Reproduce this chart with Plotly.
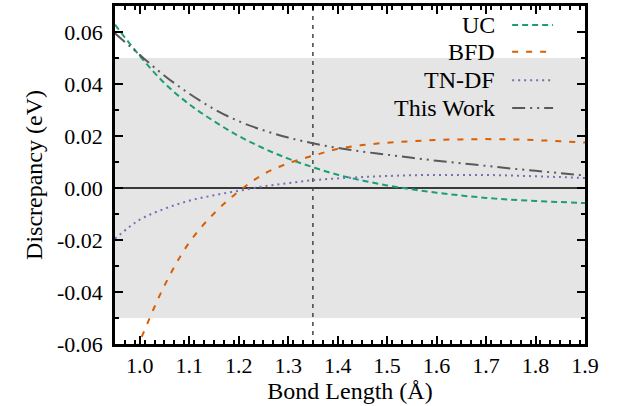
import plotly.graph_objects as go

bond_length = [0.95, 1.00, 1.05, 1.10, 1.15, 1.20, 1.25, 1.30, 1.35, 1.40,
               1.45, 1.50, 1.55, 1.60, 1.65, 1.70, 1.75, 1.80, 1.85, 1.90]
uc = [0.0628, 0.0508, 0.0403, 0.0322, 0.0257, 0.0200, 0.0153, 0.0113, 0.0080, 0.0051,
      0.0029, 0.0010, -0.0005, -0.0018, -0.0029, -0.0038, -0.0045, -0.0050, -0.0054, -0.0058]
bfd_x = [0.97, 1.00, 1.05, 1.10, 1.15, 1.20, 1.25, 1.30, 1.35, 1.40,
         1.45, 1.50, 1.55, 1.60, 1.65, 1.70, 1.75, 1.80, 1.85, 1.90]
bfd = [-0.072, -0.059, -0.0375, -0.021, -0.0098, -0.0013, 0.0053, 0.0095, 0.0124, 0.0150,
       0.0165, 0.0174, 0.018, 0.0185, 0.0187, 0.0188, 0.0187, 0.0184, 0.018, 0.0175]
tndf = [-0.0195, -0.0122, -0.008, -0.0049, -0.0028, -0.0011, 0.0006, 0.0019, 0.003, 0.0037,
        0.0042, 0.0046, 0.0049, 0.005, 0.005, 0.005, 0.0048, 0.0045, 0.0042, 0.0038]
this_work = [0.0595, 0.0512, 0.0432, 0.0363, 0.0304, 0.0257, 0.0222, 0.0194, 0.0172, 0.0154,
             0.0140, 0.0128, 0.0116, 0.0105, 0.0095, 0.0085, 0.0075, 0.0066, 0.0057, 0.0048]

series_names = ["UC", "BFD", "TN-DF", "This Work"]
series_colors = ["#1b9e77", "#d95f02", "#7570b3", "#595959"]
series_dash = ["6px,4px", "6px,8px", "2px,4px", "13px,5px,2px,5px,2px,5px"]

x_tickvals = [1.0, 1.1, 1.2, 1.3, 1.4, 1.5, 1.6, 1.7, 1.8, 1.9]
x_ticktext = ["1.0", "1.1", "1.2", "1.3", "1.4", "1.5", "1.6", "1.7", "1.8", "1.9"]
y_tickvals = [-0.06, -0.04, -0.02, 0.0, 0.02, 0.04, 0.06]
y_ticktext = ["-0.06", "-0.04", "-0.02", "0.00", "0.02", "0.04", "0.06"]

band_low, band_high = -0.05, 0.05
ref_bond = 1.35

FONT = "Liberation Serif, DejaVu Serif, Times New Roman, serif"

fig = go.Figure()
xs = [bond_length, bfd_x, bond_length, bond_length]
ys = [uc, bfd, tndf, this_work]
for name, color, dash, x, y in zip(series_names, series_colors, series_dash, xs, ys):
    fig.add_trace(go.Scatter(x=x, y=y, mode="lines", name=name,
                             line=dict(color=color, width=2, dash=dash, shape="spline"),
                             showlegend=False))

# grey band
fig.add_shape(type="rect", xref="paper", x0=0, x1=1, yref="y", y0=band_low, y1=band_high,
              fillcolor="#e5e5e5", line=dict(width=0), layer="below")
# zero line
fig.add_shape(type="line", xref="paper", x0=0, x1=1, yref="y", y0=0, y1=0,
              line=dict(color="black", width=1.5), layer="below")
# vertical reference line
fig.add_shape(type="line", xref="x", x0=ref_bond, x1=ref_bond, yref="paper", y0=0, y1=1,
              line=dict(color="#444444", width=1.5, dash="4px,5px"), layer="below")

# custom legend: text right, sample on the right
leg_y = [0.944, 0.865, 0.780, 0.698]
for name, color, dash, ly in zip(series_names, series_colors, series_dash, leg_y):
    fig.add_annotation(xref="paper", yref="paper", x=0.812, y=ly, text=name,
                       showarrow=False, xanchor="right", yanchor="middle",
                       font=dict(family=FONT, size=24, color="black"))
    fig.add_shape(type="line", xref="paper", yref="paper", x0=0.845, x1=0.932, y0=ly, y1=ly,
                  line=dict(color=color, width=2, dash=dash))

axis_common = dict(showline=True, linecolor="black", linewidth=2.5, mirror="ticks",
                   ticks="inside", ticklen=8, tickwidth=2, tickcolor="black",
                   showgrid=False, zeroline=False,
                   tickfont=dict(family=FONT, size=22, color="black"))

fig.update_xaxes(range=[0.95, 1.9], tickvals=x_tickvals, ticktext=x_ticktext,
                 minor=dict(dtick=0.02, tick0=0.95, ticks="inside", ticklen=4, tickwidth=1.5,
                            tickcolor="black"),
                 title=dict(text="Bond Length (Å)", font=dict(family=FONT, size=24, color="black"),
                            standoff=4),
                 **axis_common)
fig.update_yaxes(range=[-0.06, 0.07], tickvals=y_tickvals, ticktext=y_ticktext,
                 minor=dict(dtick=0.01, tick0=0, ticks="inside", ticklen=4, tickwidth=1.5,
                            tickcolor="black"),
                 ticklabelstandoff=5,
                 title=dict(text="Discrepancy (eV)", font=dict(family=FONT, size=24, color="black"),
                            standoff=8),
                 **axis_common)

fig.update_layout(width=619, height=406, margin=dict(l=115, r=34, t=3, b=62),
                  font=dict(family=FONT, color="black"),
                  plot_bgcolor="white", paper_bgcolor="white", showlegend=False)

fig.write_html("out.html", config={"displayModeBar": False},
               post_script="document.body.style.margin='0px';")
